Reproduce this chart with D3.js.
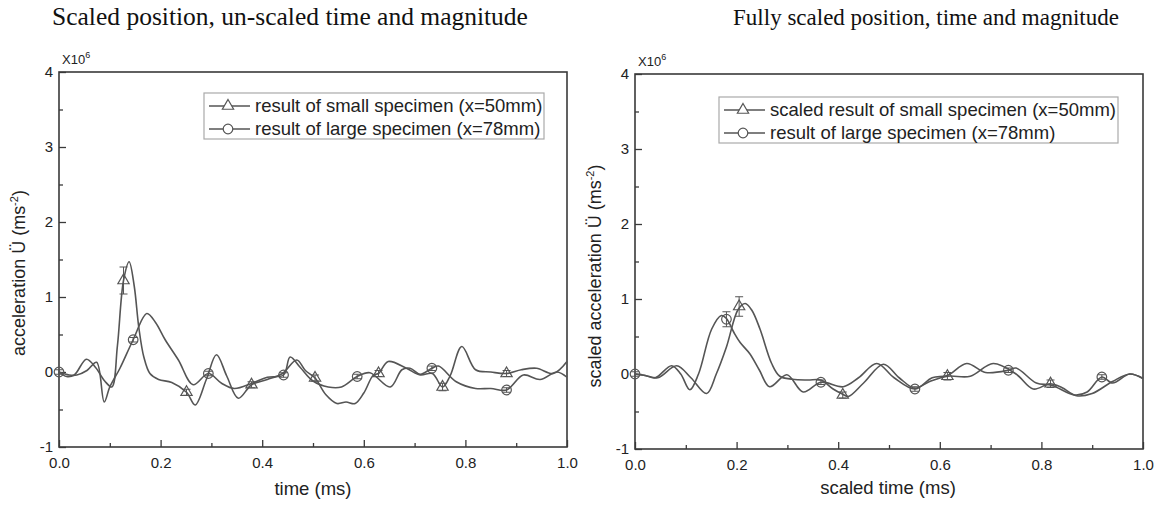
<!DOCTYPE html>
<html><head><meta charset="utf-8">
<script src="https://cdn.jsdelivr.net/npm/d3@7"></script>
<style>body{margin:0;background:#fff}</style>
</head><body>
<svg id="c" width="1161" height="505"></svg>
<script>
// ---------- DATA (values in 10^6 m s^-2, time in ms) ----------
const titles = ["Scaled position, un-scaled time and magnitude", "Fully scaled position, time and magnitude"];
const xTickLabels = [0.0, 0.2, 0.4, 0.6, 0.8, 1.0];
const yTickLabels = [-1, 0, 1, 2, 3, 4];
const xAxisTitles = ["time (ms)", "scaled time (ms)"];
const yAxisTitles = ["acceleration Ü (ms", "scaled acceleration Ü (ms"];
const legendLeft = ["result of small specimen (x=50mm)", "result of large specimen (x=78mm)"];
const legendRight = ["scaled result of small specimen (x=50mm)", "result of large specimen (x=78mm)"];

// Left panel: small specimen (triangles)
const leftSmallT = [0,0.015,0.03,0.054,0.072,0.09,0.104,0.115,0.127,0.138,0.148,0.157,0.167,0.179,0.196,0.222,0.251,0.268,0.29,0.31,0.33,0.353,0.379,0.41,0.44,0.468,0.485,0.504,0.525,0.547,0.565,0.583,0.6,0.619,0.629,0.648,0.684,0.711,0.735,0.755,0.77,0.793,0.82,0.85,0.881,0.91,0.94,0.973,1.0];
const leftSmallV = [0,-0.06,-0.04,0.17,0.06,-0.12,-0.2,0.35,1.22,1.47,1.15,0.6,0.2,-0.02,-0.1,-0.14,-0.27,-0.44,-0.1,0.23,-0.05,-0.35,-0.17,-0.1,-0.02,0.16,0.02,-0.08,-0.3,-0.42,-0.4,-0.42,-0.28,-0.04,-0.02,0.14,0.05,-0.04,-0.02,-0.2,-0.05,0.34,0.03,0.0,-0.02,0.03,0.05,-0.02,0.14];
// Left panel: large specimen (circles)
const leftLargeT = [0,0.02,0.035,0.055,0.074,0.089,0.1,0.12,0.146,0.173,0.19,0.209,0.235,0.264,0.294,0.32,0.345,0.38,0.41,0.442,0.455,0.475,0.5,0.53,0.556,0.587,0.612,0.652,0.675,0.691,0.711,0.734,0.747,0.782,0.82,0.85,0.881,0.914,0.947,0.98,1.0];
const leftLargeV = [0,-0.04,-0.04,0.02,0.13,-0.4,-0.2,0.05,0.43,0.78,0.66,0.43,0.16,-0.17,-0.02,-0.15,-0.22,-0.15,-0.07,-0.04,0.2,0.06,-0.12,-0.2,-0.2,-0.06,-0.01,-0.2,0.03,0.05,-0.03,0.05,0.08,-0.13,-0.22,-0.22,-0.24,-0.04,-0.1,0.0,-0.07];
const leftTriT = [0.127,0.251,0.379,0.504,0.629,0.755,0.881];
const leftTriV = [1.22,-0.27,-0.17,-0.08,-0.02,-0.2,-0.02];
const leftTriErr = [0.18,0.04,0.04,0.04,0.04,0.05,0.04];
const leftCirT = [0,0.146,0.294,0.442,0.587,0.734,0.881];
const leftCirV = [0,0.43,-0.02,-0.04,-0.06,0.05,-0.24];
const leftCirErr = [0.03,0.03,0.03,0.03,0.03,0.03,0.03];

// Right panel: scaled small specimen (triangles)
const rightSmallT = [0,0.02,0.045,0.082,0.11,0.141,0.16,0.18,0.203,0.217,0.23,0.246,0.269,0.285,0.31,0.34,0.366,0.39,0.409,0.42,0.45,0.489,0.52,0.551,0.58,0.615,0.66,0.705,0.75,0.784,0.817,0.84,0.869,0.9,0.94,0.974,1.0];
const rightSmallV = [0,-0.02,-0.05,0.11,-0.05,-0.26,0.0,0.36,0.86,0.94,0.85,0.6,0.14,-0.03,-0.07,-0.08,-0.08,-0.2,-0.27,-0.3,-0.12,0.13,-0.05,-0.19,-0.1,-0.03,-0.03,0.14,0.0,-0.2,-0.13,-0.18,-0.29,-0.26,-0.1,0.0,-0.06];
// Right panel: large specimen (circles)
const rightLargeT = [0,0.02,0.04,0.072,0.09,0.108,0.125,0.151,0.17,0.18,0.195,0.207,0.226,0.245,0.265,0.299,0.331,0.366,0.41,0.44,0.476,0.51,0.551,0.585,0.615,0.653,0.69,0.735,0.75,0.79,0.82,0.865,0.89,0.919,0.94,0.974,1.0];
const rightLargeV = [0,-0.02,-0.05,0.11,0.0,-0.21,0.0,0.6,0.78,0.74,0.55,0.42,0.27,0.05,-0.17,-0.01,-0.24,-0.11,-0.17,-0.05,0.14,-0.05,-0.2,-0.05,-0.02,0.14,0.02,0.05,0.08,-0.12,-0.15,-0.28,-0.24,-0.04,-0.12,0.0,-0.06];
const rightTriT = [0.205,0.409,0.615,0.818];
const rightTriV = [0.9,-0.28,-0.03,-0.13];
const rightTriErr = [0.13,0.04,0.05,0.05];
const rightCirT = [0,0.18,0.366,0.551,0.735,0.919];
const rightCirV = [0,0.73,-0.11,-0.2,0.05,-0.04];
const rightCirErr = [0.03,0.1,0.03,0.03,0.03,0.03];

// ---------- DRAWING ----------
const svg = d3.select("#c");
const INK = "#3a3a3a", LINE = "#555";
const sans = "'Liberation Sans', Arial, sans-serif";

function zip(t, v) { return t.map((d, i) => ({t: d, v: v[i]})); }

function panel(cfg) {
  const x = d3.scaleLinear().domain([0, 1]).range([cfg.x0, cfg.x1]);
  const y = d3.scaleLinear().domain([-1, 4]).range([cfg.y1, cfg.y0]);
  const g = svg.append("g");

  // title
  svg.append("text").attr("x", cfg.titleX).attr("y", 25).attr("text-anchor", "middle")
    .style("font-family", "'Liberation Serif','Times New Roman',serif").style("font-size", cfg.titleSize + "px")
    .attr("fill", "#111").text(cfg.title);

  // minor ticks
  const minorY = d3.axisLeft(y).tickValues(d3.range(-0.5, 4, 1)).tickSize(-4).tickFormat("");
  const minorX = d3.axisBottom(x).tickValues(d3.range(0.1, 1, 0.2)).tickSize(-4).tickFormat("");
  g.append("g").attr("transform", `translate(${cfg.x0},0)`).call(minorY);
  g.append("g").attr("transform", `translate(0,${cfg.y1})`).call(minorX);

  const yAx = d3.axisLeft(y).tickValues(yTickLabels).tickSize(-7).tickPadding(6).tickFormat(d => String(d));
  const xAx = d3.axisBottom(x).tickValues(xTickLabels).tickSize(-7).tickPadding(10).tickFormat(d => d.toFixed(1));
  g.append("g").attr("transform", `translate(${cfg.x0},0)`).call(yAx);
  g.append("g").attr("transform", `translate(0,${cfg.y1})`).call(xAx);
  g.selectAll(".domain").remove();
  g.selectAll(".tick line").attr("stroke", INK).attr("stroke-width", 1.3);
  g.selectAll(".tick text").style("font-family", sans).style("font-size", "15px").attr("fill", "#222");

  // frame
  g.append("rect").attr("x", cfg.x0).attr("y", cfg.y0).attr("width", cfg.x1 - cfg.x0).attr("height", cfg.y1 - cfg.y0)
    .attr("fill", "none").attr("stroke", INK).attr("stroke-width", 1.6);

  // X10^6
  const m = g.append("text").attr("x", cfg.x0 + 3).attr("y", cfg.y0 - 8)
    .style("font-family", sans).style("font-size", "13px").attr("fill", "#222");
  m.append("tspan").text("X10");
  m.append("tspan").attr("dy", -6).style("font-size", "9px").text("6");

  // axis titles
  g.append("text").attr("x", cfg.xTitleX).attr("y", cfg.xTitleY).attr("text-anchor", "middle")
    .style("font-family", sans).style("font-size", "18.5px").attr("fill", "#222").text(cfg.xTitle);
  const yt = g.append("text").attr("transform", `translate(${cfg.yTitleX},${cfg.yTitleY}) rotate(-90)`)
    .attr("text-anchor", "middle").style("font-family", sans).style("font-size", "18px").attr("fill", "#222");
  yt.append("tspan").text(cfg.yTitle);
  yt.append("tspan").attr("dy", -7).style("font-size", "11px").text("-2");
  yt.append("tspan").attr("dy", 7).text(")");

  // curves
  const line = d3.line().x(d => x(d.t)).y(d => y(d.v)).curve(d3.curveCatmullRom.alpha(0.5));
  [cfg.small, cfg.large].forEach(s => {
    g.append("path").datum(s).attr("d", line).attr("fill", "none").attr("stroke", LINE).attr("stroke-width", 1.6);
  });

  // error bars + markers
  function errorBars(pts) {
    pts.forEach(p => {
      const cx = x(p.t), ya = y(p.v + p.e), yb = y(p.v - p.e);
      g.append("line").attr("x1", cx).attr("x2", cx).attr("y1", ya).attr("y2", yb).attr("stroke", LINE).attr("stroke-width", 1);
      [ya, yb].forEach(yy => g.append("line").attr("x1", cx - 4).attr("x2", cx + 4).attr("y1", yy).attr("y2", yy).attr("stroke", LINE).attr("stroke-width", 1));
    });
  }
  const tri = cfg.tri, cir = cfg.cir;
  errorBars(tri); errorBars(cir);
  g.selectAll(null).data(tri).enter().append("path")
    .attr("transform", d => `translate(${x(d.t)},${y(d.v)})`)
    .attr("d", d3.symbol(d3.symbolTriangle, 55)())
    .attr("fill", "none").attr("stroke", LINE).attr("stroke-width", 1.2);
  g.selectAll(null).data(cir).enter().append("circle")
    .attr("cx", d => x(d.t)).attr("cy", d => y(d.v)).attr("r", 4.8)
    .attr("fill", "none").attr("stroke", LINE).attr("stroke-width", 1.2);

  // legend
  const lx = cfg.legX, ly = cfg.legY;
  g.append("rect").attr("x", lx).attr("y", ly).attr("width", cfg.legW).attr("height", 46)
    .attr("fill", "#fff").attr("stroke", "#aaa").attr("stroke-width", 1.2);
  cfg.legend.forEach((lab, i) => {
    const cy = ly + 13 + i * 23;
    g.append("line").attr("x1", lx + 5).attr("x2", lx + 46).attr("y1", cy).attr("y2", cy).attr("stroke", LINE).attr("stroke-width", 1.4);
    if (i === 0) {
      g.append("path").attr("transform", `translate(${lx + 24},${cy})`).attr("d", d3.symbol(d3.symbolTriangle, 55)())
        .attr("fill", "#fff").attr("stroke", LINE).attr("stroke-width", 1.2);
    } else {
      g.append("circle").attr("cx", lx + 24).attr("cy", cy).attr("r", 4.8).attr("fill", "#fff").attr("stroke", LINE).attr("stroke-width", 1.2);
    }
    g.append("text").attr("x", lx + 51).attr("y", cy + 6).style("font-family", sans).style("font-size", "18.5px")
      .attr("fill", "#222").text(lab);
  });
}

function withErr(t, v, e) { return t.map((d, i) => ({t: d, v: v[i], e: e[i]})); }

panel({
  x0: 59, x1: 567, y0: 72, y1: 447, titleX: 290, titleSize: 25.5, title: titles[0],
  xTitle: xAxisTitles[0], xTitleX: 313, xTitleY: 495,
  yTitle: yAxisTitles[0], yTitleX: 25, yTitleY: 273,
  small: zip(leftSmallT, leftSmallV), large: zip(leftLargeT, leftLargeV),
  tri: withErr(leftTriT, leftTriV, leftTriErr), cir: withErr(leftCirT, leftCirV, leftCirErr),
  legend: legendLeft, legX: 204, legY: 93, legW: 340
});
panel({
  x0: 635, x1: 1143, y0: 74, y1: 449, titleX: 926, titleSize: 23, title: titles[1],
  xTitle: xAxisTitles[1], xTitleX: 888, xTitleY: 494,
  yTitle: yAxisTitles[1], yTitleX: 601, yTitleY: 276,
  small: zip(rightSmallT, rightSmallV), large: zip(rightLargeT, rightLargeV),
  tri: withErr(rightTriT, rightTriV, rightTriErr), cir: withErr(rightCirT, rightCirV, rightCirErr),
  legend: legendRight, legX: 719, legY: 97, legW: 399
});
</script>
</body></html>
